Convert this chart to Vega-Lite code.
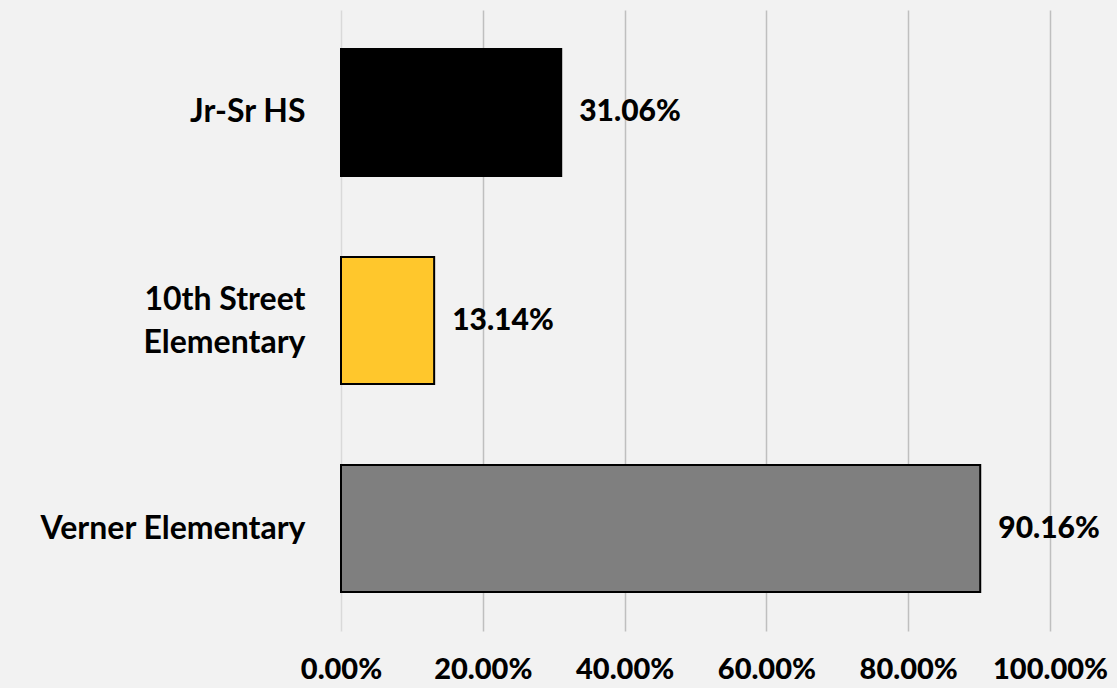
{
  "$schema": "https://vega.github.io/schema/vega-lite/v6.json",
  "width": 709,
  "height": 621,
  "autosize": "none",
  "padding": {"left": 341, "top": 10, "right": 67, "bottom": 57},
  "background": "#f2f2f2",
  "config": {"view": {"stroke": null}, "font": "Lato"},
  "data": {
    "values": [
      {"school": "Jr-Sr HS", "value": 0.3106, "color": "#000000"},
      {"school": "10th Street Elementary", "value": 0.1314, "color": "#FFC72C"},
      {"school": "Verner Elementary", "value": 0.9016, "color": "#7F7F7F"}
    ]
  },
  "encoding": {
    "y": {
      "field": "school",
      "type": "nominal",
      "sort": null,
      "title": null,
      "scale": {"paddingInner": 0.39, "paddingOuter": 0.1875},
      "axis": {
        "domain": false,
        "ticks": false,
        "grid": false,
        "labelFont": "Lato",
        "labelFontWeight": "bold",
        "labelFontSize": 32,
        "labelColor": "#000000",
        "labelPadding": 36,
        "labelLimit": 0,
        "labelLineHeight": 43,
        "labelOffset": {"condition": {"test": "datum.value == '10th Street Elementary'", "value": -21}, "value": 0},
        "labelExpr": "datum.label == '10th Street Elementary' ? ['10th Street', 'Elementary'] : datum.label"
      }
    },
    "x": {
      "field": "value",
      "type": "quantitative",
      "title": null,
      "scale": {"domain": [0, 1], "nice": false},
      "axis": {
        "values": [0, 0.2, 0.4, 0.6, 0.8, 1],
        "format": ".2%",
        "domain": false,
        "ticks": false,
        "grid": true,
        "gridColor": {"condition": {"test": "datum.value === 0", "value": "#d9d9d9"}, "value": "#bfbfbf"},
        "gridWidth": 1.5,
        "labelFont": "Lato",
        "labelFontWeight": 900,
        "labelFontSize": 29,
        "labelColor": "#000000",
        "labelPadding": 24,
        "labelBaseline": "top",
        "labelFlush": false
      }
    }
  },
  "layer": [
    {
      "mark": {"type": "bar", "stroke": "#000000", "strokeWidth": 2},
      "encoding": {
        "color": {"field": "color", "type": "nominal", "scale": null, "legend": null}
      }
    },
    {
      "mark": {"type": "text", "align": "left", "baseline": "middle", "dx": 18, "font": "Lato", "fontWeight": 900, "fontSize": 30, "color": "#000000"},
      "encoding": {
        "text": {"field": "value", "type": "quantitative", "format": ".2%"}
      }
    }
  ]
}
